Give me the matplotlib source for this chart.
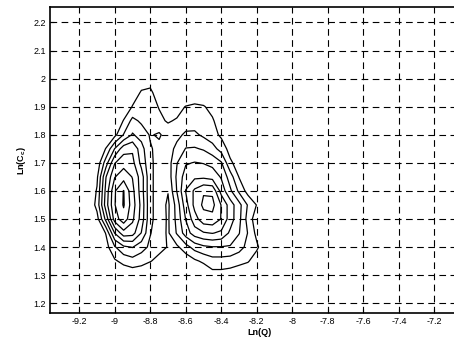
import numpy as np
import matplotlib
matplotlib.use('Agg')
import matplotlib.pyplot as plt
from matplotlib.ticker import FuncFormatter

# grid of the density estimate, ln(Q) columns by ln(Cc) rows
lnq = [-9.20, -9.15, -9.10, -9.05, -9.00, -8.95, -8.90, -8.85, -8.80, -8.75, -8.70, -8.65,
       -8.60, -8.55, -8.50, -8.45, -8.40, -8.35, -8.30, -8.25, -8.20, -8.15, -8.10]
lncc = [1.25, 1.30, 1.35, 1.40, 1.45, 1.50, 1.55, 1.60, 1.65, 1.70, 1.75, 1.80, 1.85, 1.90, 1.95, 2.00, 2.05]

density = [
    # 1.25
    [0, 0, 0, 0, 0, 0, 0, 0, 0, 0, 0, 0, 0, 0, 0, 0, 0, 0, 0, 0, 0, 0, 0],
    # 1.30
    [0, 0, 0, 0, 0, 0.2, 0.3, 0.2, 0, 0, 0, 0, 0, 0, 0, 0.6, 0.6, 0.5, 0.3, 0, 0, 0, 0],
    # 1.35
    [0, 0, 0, 0.2, 0.85, 1.3, 1.6, 1.4, 1.05, 0.7, 0.5, 0.2, 0.3, 0.8, 1.2, 1.6, 1.6, 1.5, 1.3, 1.1, 0.4, 0, 0],
    # 1.40
    [0, 0, 0, 0.6, 1.9, 2.8, 3.05, 2.4, 1.8, 1.3, 0.95, 0.8, 1.6, 2.4, 2.8, 2.95, 2.95, 2.9, 2.4, 1.7, 1.2, 0.2, 0],
    # 1.45
    [0, 0, 0.1, 1.05, 4.05, 5.6, 5.4, 3.95, 2.05, 1.5, 0.85, 2.1, 3.5, 4.5, 4.9, 5.05, 4.8, 3.8, 3.05, 1.95, 0.7, 0, 0],
    # 1.50
    [0, 0, 0.6, 3.3, 6.5, 7.6, 6.2, 4.6, 2.2, 1.6, 0.85, 2.3, 4.05, 5.6, 6.6, 6.7, 5.95, 4.5, 3.3, 1.6, 0.4, 0, 0],
    # 1.55
    [0, 0, 1.35, 4.5, 6.95, 8.1, 6.5, 4.7, 2.2, 1.6, 0.8, 2.4, 4.6, 6.3, 7.2, 7.3, 5.95, 4.5, 3.35, 1.9, 0.95, 0.2, 0],
    # 1.60
    [0, 0, 1.1, 4.3, 6.9, 8.05, 6.3, 4.5, 2.2, 1.6, 1.05, 3.05, 5.05, 6.2, 6.9, 6.8, 4.6, 3.2, 1.8, 0.6, 0, 0, 0],
    # 1.65
    [0, 0, 0.8, 3.95, 5.95, 6.6, 5.95, 4.5, 2.2, 1.6, 1.4, 3.2, 4.5, 4.8, 4.8, 4.6, 3.9, 2.5, 0.95, 0.3, 0, 0, 0],
    # 1.70
    [0, 0, 0.3, 2.5, 4.95, 5.6, 5.3, 3.7, 2.2, 1.6, 1.5, 2.95, 3.9, 4.05, 3.95, 3.7, 3.1, 1.2, 0.5, 0, 0, 0, 0],
    # 1.75
    [0, 0, 0, 1.05, 3.05, 4.6, 4.85, 3.4, 2.1, 1.7, 1.5, 2.3, 3.05, 3.1, 2.9, 2.4, 1.6, 0.6, 0, 0, 0, 0, 0],
    # 1.80
    [0, 0, 0, 0, 0.7, 2.05, 3.1, 2.6, 1.9, 2.15, 1.5, 1.7, 2.2, 2.2, 1.8, 1.4, 0.8, 0, 0, 0, 0, 0, 0],
    # 1.85
    [0, 0, 0, 0, 0.2, 1.05, 2.3, 1.8, 1.4, 1.2, 0.9, 1.1, 1.4, 1.5, 1.3, 1.15, 0.3, 0, 0, 0, 0, 0, 0],
    # 1.90
    [0, 0, 0, 0, 0, 0.3, 1.05, 1.4, 1.35, 0.95, 0.5, 0.6, 1.05, 1.15, 1.1, 0.6, 0, 0, 0, 0, 0, 0, 0],
    # 1.95
    [0, 0, 0, 0, 0, 0, 0.5, 1.1, 1.2, 0.5, 0, 0, 0, 0.4, 0, 0, 0, 0, 0, 0, 0, 0, 0],
    # 2.00
    [0, 0, 0, 0, 0, 0, 0, 0.5, 0.6, 0, 0, 0, 0, 0, 0, 0, 0, 0, 0, 0, 0, 0, 0],
    # 2.05
    [0, 0, 0, 0, 0, 0, 0, 0, 0, 0, 0, 0, 0, 0, 0, 0, 0, 0, 0, 0, 0, 0, 0],
]
contour_levels = [1, 2, 3, 4, 5, 6, 7, 8]

xticks = [-9.2, -9.0, -8.8, -8.6, -8.4, -8.2, -8.0, -7.8, -7.6, -7.4, -7.2]
yticks = [1.2, 1.3, 1.4, 1.5, 1.6, 1.7, 1.8, 1.9, 2.0, 2.1, 2.2]

plt.rcParams['font.family'] = ['Liberation Sans', 'DejaVu Sans']
plt.rcParams['mathtext.default'] = 'regular'

fig = plt.figure(figsize=(4.54, 3.38), dpi=100)
ax = fig.add_axes([0.110, 0.073, 0.925, 0.907])

X, Y = np.meshgrid(lnq, lncc)
ax.contour(X, Y, np.array(density), levels=contour_levels, colors='k', linewidths=0.9)

ax.set_xlim(-9.365, -7.0)
ax.set_ylim(1.164, 2.256)
ax.set_xticks(xticks)
ax.set_yticks(yticks)
fmt = FuncFormatter(lambda v, p: '%g' % round(v, 2))
ax.xaxis.set_major_formatter(fmt)
ax.yaxis.set_major_formatter(fmt)
ax.tick_params(direction='in', length=3, width=0.8, labelsize=6.5, pad=3)
ax.grid(True, color='k', linestyle=(0, (6, 4)), linewidth=0.8)

for s in ax.spines.values():
    s.set_linewidth(1.2)

ax.set_xlabel('Ln(Q)', fontsize=6.5, fontweight='bold', labelpad=1)
ax.set_ylabel(r'Ln(C$_c$)', fontsize=6.5, fontweight='bold', labelpad=4)

fig.savefig('out.png', dpi=100)
